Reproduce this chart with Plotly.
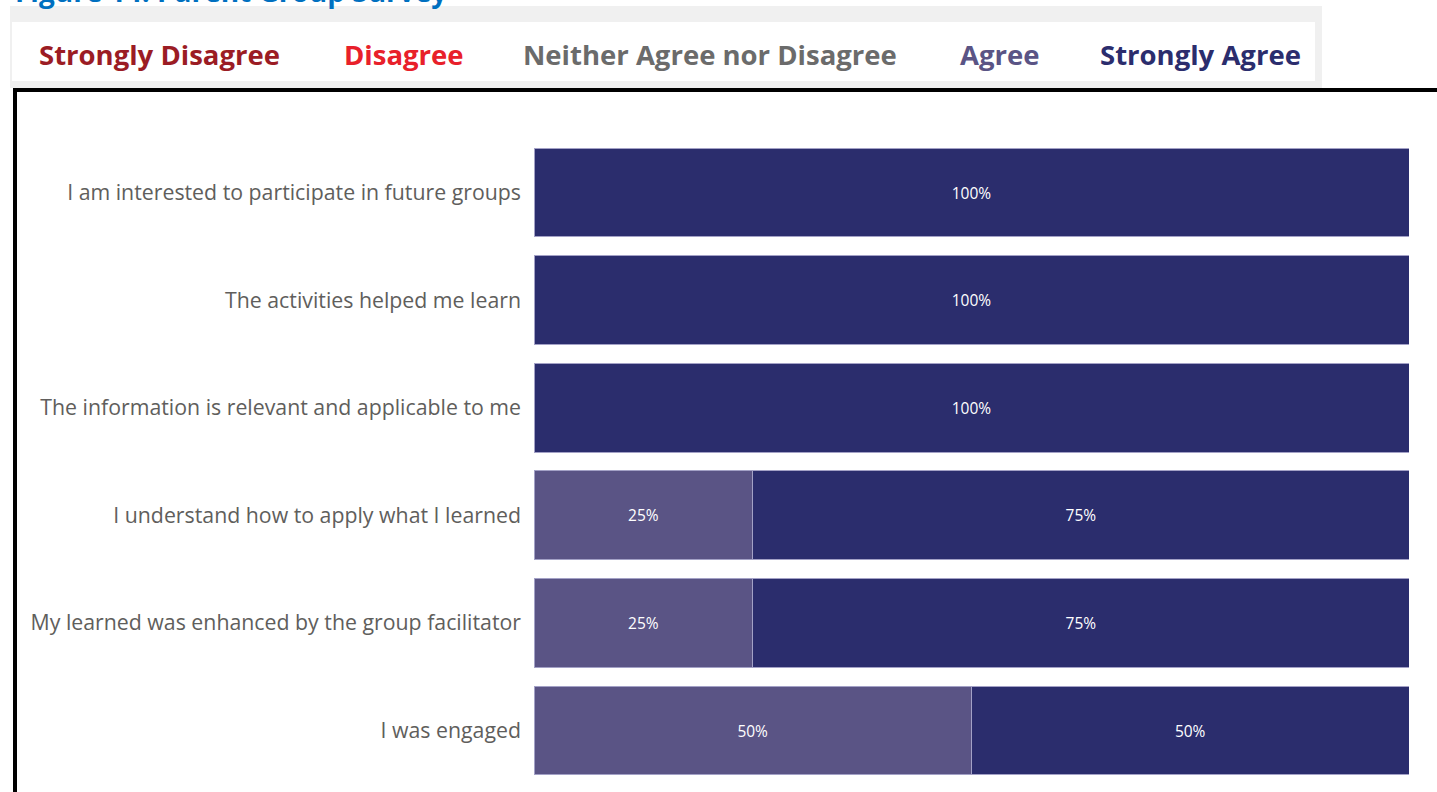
import plotly.graph_objects as go

# Survey statements (top to bottom) and response shares in percent
statements = [
    "I am interested to participate in future groups",
    "The activities helped me learn",
    "The information is relevant and applicable to me",
    "I understand how to apply what I learned",
    "My learned was enhanced by the group facilitator",
    "I was engaged",
]
strongly_disagree = [0, 0, 0, 0, 0, 0]
disagree = [0, 0, 0, 0, 0, 0]
neither = [0, 0, 0, 0, 0, 0]
agree = [0, 0, 0, 25, 25, 50]
strongly_agree = [100, 100, 100, 75, 75, 50]

series_names = ["Strongly Disagree", "Disagree", "Neither Agree nor Disagree",
                "Agree", "Strongly Agree"]
series_values = [strongly_disagree, disagree, neither, agree, strongly_agree]
series_colors = ["#9B1C24", "#E8202A", "#6B6B6B", "#5A5485", "#2B2D6D"]

title_text = "Figure 14: Parent Group Survey"

W, H = 1437, 792
FONT = "Segoe UI, Open Sans, sans-serif"


def px_x(x):
    return x / W


def px_y(y):
    return 1 - y / H


fig = go.Figure()
for name, vals, color in zip(series_names, series_values, series_colors):
    fig.add_trace(go.Bar(
        name=name,
        y=statements,
        x=vals,
        orientation="h",
        marker=dict(color=color, line=dict(color="#A3A1C6", width=1)),
        text=[f"{v}%" if v > 0 else "" for v in vals],
        textposition="inside",
        insidetextanchor="middle",
        textfont=dict(family=FONT, size=15.5, color="white"),
        showlegend=False,
        hoverinfo="skip",
    ))

# Custom text legend inside a light gray panel
legend_x = [37, 342, 521, 958, 1098]
annotations = []
for name, color, lx in zip(series_names, series_colors, legend_x):
    annotations.append(dict(
        x=px_x(lx), y=px_y(55), xref="paper", yref="paper",
        xanchor="left", yanchor="middle", showarrow=False,
        text=f"<b>{name}</b>",
        font=dict(family=FONT, size=27.5, color=color),
    ))

# Figure caption at the very top
annotations.append(dict(
    x=px_x(13), y=px_y(-9), xref="paper", yref="paper",
    xanchor="left", yanchor="middle", showarrow=False,
    text=f"<b>{title_text}</b>",
    font=dict(family=FONT, size=28, color="#0070C0"),
))

shapes = [
    # legend panel: gray frame with white inner area
    dict(type="rect", xref="paper", yref="paper",
         x0=px_x(10), x1=px_x(1322), y0=px_y(88), y1=px_y(6),
         fillcolor="#F0F0F0", line=dict(width=0), layer="below"),
    dict(type="rect", xref="paper", yref="paper",
         x0=px_x(12), x1=px_x(1315), y0=px_y(81), y1=px_y(22),
         fillcolor="#FFFFFF", line=dict(width=0), layer="below"),
    # black frame around the chart
    dict(type="rect", xref="paper", yref="paper",
         x0=px_x(15), x1=px_x(1450), y0=px_y(810), y1=px_y(90),
         fillcolor="rgba(0,0,0,0)", line=dict(color="black", width=4)),
]

fig.update_layout(
    width=W, height=H,
    margin=dict(l=0, r=0, t=0, b=0),
    paper_bgcolor="white", plot_bgcolor="white",
    barmode="stack", bargap=0.173,
    xaxis=dict(domain=[px_x(534), px_x(1409)], range=[0, 100],
               visible=False, fixedrange=True),
    yaxis=dict(domain=[px_y(784.3), px_y(138.7)], autorange="reversed",
               showgrid=False, zeroline=False, showline=False, ticks="",
               ticklabelstandoff=12,
               tickfont=dict(family=FONT, size=21.3, color="#605E5C")),
    annotations=annotations,
    shapes=shapes,
    font=dict(family=FONT),
)

fig.write_html("out.html")
